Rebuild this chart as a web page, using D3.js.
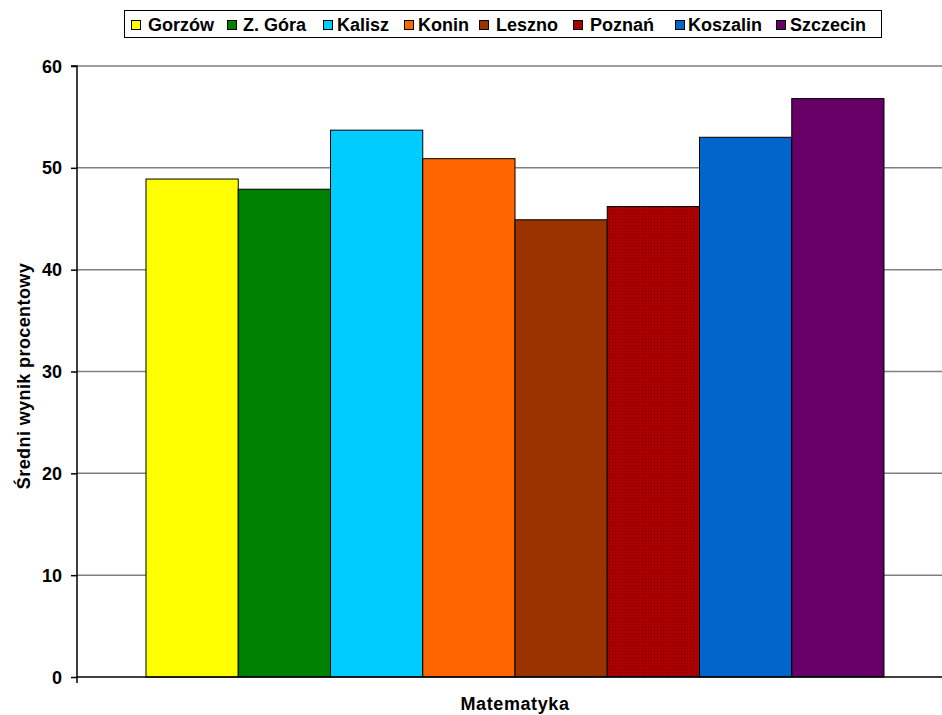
<!DOCTYPE html>
<html><head><meta charset="utf-8">
<script src="https://cdn.jsdelivr.net/npm/d3@7"></script>
<style>body{margin:0;background:#fff}svg{display:block;font-family:"Liberation Sans",Arial,sans-serif;font-weight:bold}</style>
</head><body><svg id="c" width="942" height="715"></svg>
<script>
const categories = ["Matematyka"];
const seriesNames = ["Gorzów","Z. Góra","Kalisz","Konin","Leszno","Poznań","Koszalin","Szczecin"];
const seriesValues = [48.9, 47.9, 53.7, 50.9, 44.9, 46.2, 53.0, 56.8];
const seriesColors = ["#FFFF00","#008000","#00CCFF","#FF6600","#993300","url(#hatch)","#0066CC","#660066"];
const yTicks = [0,10,20,30,40,50,60];

const svg = d3.select("#c");
const defs = svg.append("defs");
const pat = defs.append("pattern").attr("id","hatch").attr("width",3).attr("height",3).attr("patternUnits","userSpaceOnUse");
pat.append("rect").attr("width",3).attr("height",3).attr("fill","#A80000");
pat.append("rect").attr("x",0).attr("y",0).attr("width",1).attr("height",1).attr("fill","#7A0000");
pat.append("rect").attr("x",1.5).attr("y",1.5).attr("width",1).attr("height",1).attr("fill","#C40000");

const L = 77, R = 953, T = 66, B = 677;
const y = d3.scaleLinear().domain([0,60]).range([B,T]);
const x0 = d3.scaleBand().domain(categories).range([L,R]).paddingInner(0).paddingOuter(0.0935);
const x1 = d3.scaleBand().domain(seriesNames).range([0,x0.bandwidth()]).padding(0);

// gridlines
svg.append("g").selectAll("line").data(yTicks.filter(d=>d>0)).join("line")
  .attr("x1",L).attr("x2",R).attr("y1",d=>y(d)).attr("y2",d=>y(d))
  .attr("stroke","#808080").attr("stroke-width",1.5);

// bars
const g = svg.append("g");
categories.forEach(cat=>{
  g.selectAll(null).data(seriesNames.map((s,i)=>({s,v:seriesValues[i],c:seriesColors[i]}))).join("rect")
    .attr("x",d=>x0(cat)+x1(d.s)).attr("y",d=>y(d.v))
    .attr("width",x1.bandwidth()).attr("height",d=>B-y(d.v))
    .attr("fill",d=>d.c).attr("stroke","#000").attr("stroke-width",1);
});

// y axis
const yAxis = d3.axisLeft(y).tickValues(yTicks).tickSize(6).tickPadding(9).tickFormat(d3.format("d"));
const ya = svg.append("g").attr("transform",`translate(${L},0)`).call(yAxis);
ya.select(".domain").attr("stroke","#000").attr("stroke-width",1.5).attr("d",`M-6,${T}H0V${B+6}`);
ya.selectAll(".tick line").attr("stroke","#000").attr("stroke-width",1.5);
ya.selectAll(".tick text").attr("font-size",18).attr("font-weight","bold").attr("fill","#000")
  .attr("font-family","Liberation Sans, Arial, sans-serif").attr("dy","0.34em");

// x axis line
svg.append("line").attr("x1",L).attr("x2",R).attr("y1",B).attr("y2",B).attr("stroke","#000").attr("stroke-width",1.5);

// titles
svg.append("text").attr("x",515).attr("y",710).attr("text-anchor","middle").attr("font-size",18).attr("letter-spacing",0.6).text(categories[0]);
svg.append("text").attr("transform","translate(30,376) rotate(-90)").attr("text-anchor","middle").attr("font-size",18).attr("letter-spacing",0.4).text("Średni wynik procentowy");

// legend
const lg = svg.append("g");
lg.append("rect").attr("x",124.5).attr("y",10.5).attr("width",757).attr("height",27).attr("fill","#fff").attr("stroke","#000").attr("stroke-width",1);
const lx = [131,227,323,404,479,573,675,776];
const tx = [148,243,337,418,496,590,688,790];
seriesNames.forEach((s,i)=>{
  lg.append("rect").attr("x",lx[i]+0.5).attr("y",20.5).attr("width",9).attr("height",9).attr("fill",seriesColors[i]).attr("stroke","#000").attr("stroke-width",1);
  lg.append("text").attr("x",tx[i]).attr("y",31).attr("font-size",18).text(s);
});
</script></body></html>
